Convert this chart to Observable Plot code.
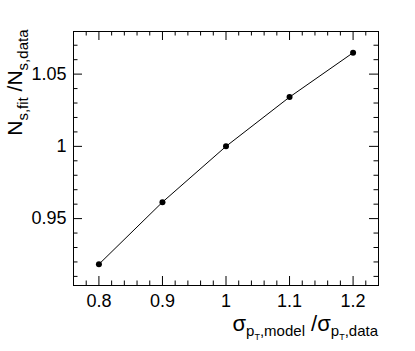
<!DOCTYPE html>
<html>
<head>
<meta charset="utf-8">
<script src="https://cdn.jsdelivr.net/npm/d3@7"></script>
<script src="https://cdn.jsdelivr.net/npm/@observablehq/plot@0.6"></script>
<style>
  html, body { margin: 0; padding: 0; background: #fff; }
  #chart svg { display: block; }
</style>
</head>
<body>
<div id="chart"></div>
<script>
// Data
const sigmaRatio = [0.8, 0.9, 1.0, 1.1, 1.2];
const nsRatio = [0.9184, 0.9614, 1.0, 1.0341, 1.0648];

// Ticks
const xMajor = [0.8, 0.9, 1.0, 1.1, 1.2];
const xMajorLabels = ["0.8", "0.9", "1", "1.1", "1.2"];
const xMinor = [0.78, 0.82, 0.84, 0.86, 0.88, 0.92, 0.94, 0.96, 0.98, 1.02, 1.04, 1.06, 1.08, 1.12, 1.14, 1.16, 1.18, 1.22];
const yMajor = [0.95, 1.0, 1.05];
const yMajorLabels = ["0.95", "1", "1.05"];
const yMinor = [0.91, 0.92, 0.93, 0.94, 0.96, 0.97, 0.98, 0.99, 1.01, 1.02, 1.03, 1.04, 1.06, 1.07];

const W = 415, H = 351;
const mL = 73, mR = 37, mT = 31, mB = 66;
const FW = W - mL - mR, FH = H - mT - mB;
const majLen = 9, minLen = 4.5;

const points = sigmaRatio.map((x, i) => ({x, y: nsRatio[i]}));

const svg = Plot.plot({
  width: W,
  height: H,
  marginLeft: mL,
  marginRight: mR,
  marginTop: mT,
  marginBottom: mB,
  style: {fontFamily: "'Liberation Sans', Arial, Helvetica, sans-serif", fontSize: "18px", color: "black", background: "white"},
  x: {domain: [0.76, 1.24]},
  y: {domain: [0.9037, 1.0795]},
  marks: [
    // bottom & top ticks
    Plot.ruleX(xMajor, {x: d => d, insetTop: FH - majLen, stroke: "black"}),
    Plot.ruleX(xMinor, {x: d => d, insetTop: FH - minLen, stroke: "black"}),
    Plot.ruleX(xMajor, {x: d => d, insetBottom: FH - majLen, stroke: "black"}),
    Plot.ruleX(xMinor, {x: d => d, insetBottom: FH - minLen, stroke: "black"}),
    // left & right ticks
    Plot.ruleY(yMajor, {y: d => d, insetRight: FW - majLen, stroke: "black"}),
    Plot.ruleY(yMinor, {y: d => d, insetRight: FW - minLen, stroke: "black"}),
    Plot.ruleY(yMajor, {y: d => d, insetLeft: FW - majLen, stroke: "black"}),
    Plot.ruleY(yMinor, {y: d => d, insetLeft: FW - minLen, stroke: "black"}),
    Plot.axisX({ticks: xMajor, tickSize: 0, tickPadding: 9, tickFormat: (d, i) => xMajorLabels[xMajor.indexOf(d)], label: null, fill: "black"}),
    Plot.axisY({ticks: yMajor, tickSize: 0, tickPadding: 7, tickFormat: (d) => yMajorLabels[yMajor.indexOf(d)], label: null, fill: "black"}),
    Plot.frame({stroke: "black", strokeWidth: 1}),
    Plot.line(points, {x: "x", y: "y", stroke: "black", strokeWidth: 1}),
    Plot.dot(points, {x: "x", y: "y", r: 3, fill: "black", stroke: "none"})
  ]
});

const s = d3.select(svg);
// X title
const xt = s.append("text")
  .attr("x", W - mR)
  .attr("y", 330.7)
  .attr("text-anchor", "end")
  .attr("fill", "black")
  .style("white-space", "pre")
  .attr("font-size", 22);
xt.append("tspan").text("σ");
xt.append("tspan").attr("dy", 5).attr("font-size", 15).text("p");
xt.append("tspan").attr("dy", 4).attr("font-size", 9).text("T");
xt.append("tspan").attr("dy", -4).attr("font-size", 15).text(",model");
xt.append("tspan").attr("dy", -5).attr("font-size", 22).text(" /σ");
xt.append("tspan").attr("dy", 5).attr("font-size", 15).text("p");
xt.append("tspan").attr("dy", 4).attr("font-size", 9).text("T");
xt.append("tspan").attr("dy", -4).attr("font-size", 15).text(",data");

// Y title
const yt = s.append("text")
  .attr("transform", `translate(21.7,${mT - 1.5}) rotate(-90)`)
  .attr("text-anchor", "end")
  .attr("fill", "black")
  .style("white-space", "pre")
  .attr("font-size", 21);
yt.append("tspan").text("N");
yt.append("tspan").attr("dy", 6).attr("font-size", 15).text("s,fit");
yt.append("tspan").attr("dy", -6).attr("font-size", 21).text(" /N");
yt.append("tspan").attr("dy", 6).attr("font-size", 15).text("s,data");

document.getElementById("chart").appendChild(svg);
</script>
</body>
</html>
